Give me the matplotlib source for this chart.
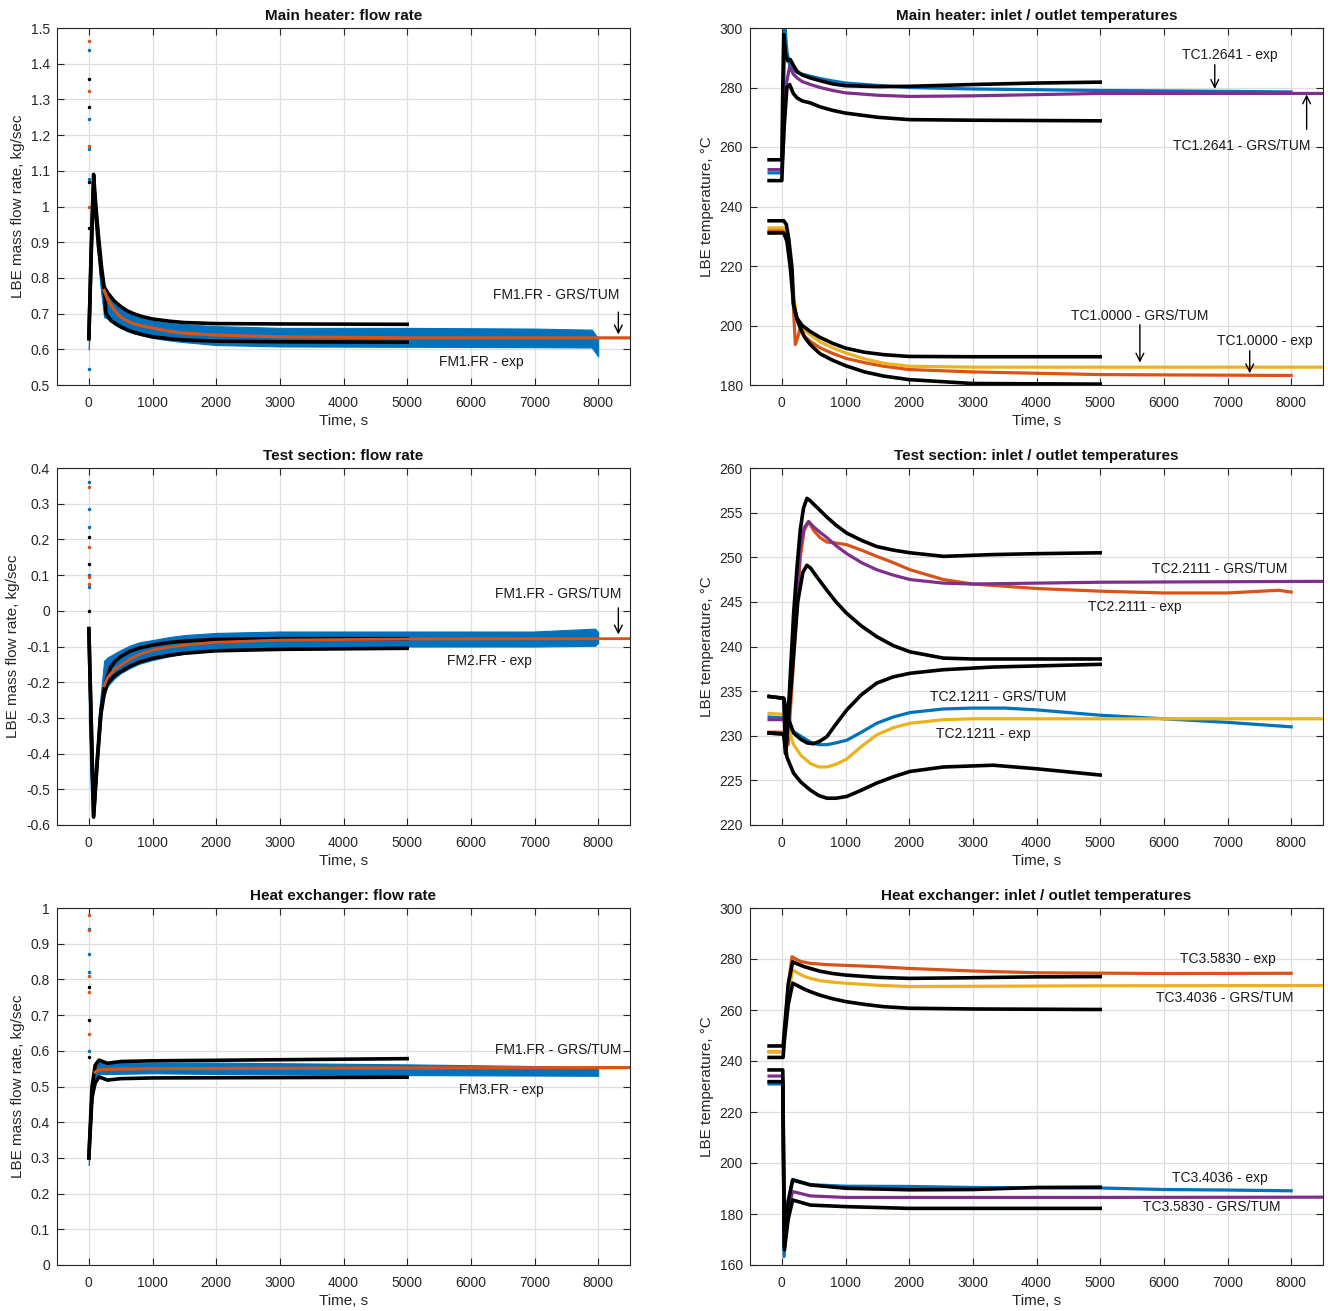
import matplotlib.pyplot as plt
from matplotlib.ticker import MultipleLocator, FuncFormatter

plt.rcParams['font.family'] = ['Liberation Sans', 'DejaVu Sans']
plt.rcParams['axes.unicode_minus'] = False

BLUE = '#0072BD'
ORANGE = '#D95319'
YELLOW = '#EDB120'
PURPLE = '#7E2F8E'
BLACK = '#000000'

# ---------------- Main heater: flow rate (kg/s)
mh_fr_exp_t = [0, 20, 50, 75, 120, 180, 240, 300, 400, 500, 600, 700, 850, 1000, 1250, 1500, 2000, 3000, 5000, 7000, 7900, 8000]
mh_fr_exp_hi = [0.66, 0.80, 1.00, 1.08, 1.00, 0.86, 0.76, 0.745, 0.728, 0.715, 0.704, 0.695, 0.686, 0.68, 0.674, 0.67, 0.665, 0.66, 0.66, 0.658, 0.655, 0.63]
mh_fr_exp_lo = [0.60, 0.70, 0.90, 1.02, 0.92, 0.78, 0.69, 0.685, 0.67, 0.66, 0.651, 0.645, 0.638, 0.632, 0.625, 0.62, 0.612, 0.608, 0.607, 0.606, 0.605, 0.58]
mh_fr_sim_t = [240, 300, 400, 500, 600, 700, 850, 1000, 1250, 1500, 2000, 3000, 5000, 8500]
mh_fr_sim = [0.765, 0.738, 0.71, 0.69, 0.68, 0.672, 0.665, 0.66, 0.651, 0.645, 0.64, 0.635, 0.632, 0.632]
mh_fr_up_t = [0, 40, 75, 110, 150, 200, 240, 300, 400, 500, 600, 700, 850, 1000, 1250, 1500, 2000, 3000, 5000]
mh_fr_up = [0.63, 0.9, 1.09, 1.0, 0.92, 0.83, 0.775, 0.757, 0.735, 0.72, 0.708, 0.70, 0.691, 0.685, 0.679, 0.675, 0.672, 0.671, 0.67]
mh_fr_low_t = [0, 40, 75, 110, 150, 200, 240, 270, 350, 500, 600, 700, 850, 1000, 1250, 1500, 2000, 3000, 5000]
mh_fr_low = [0.63, 0.88, 1.07, 0.98, 0.89, 0.81, 0.77, 0.70, 0.68, 0.663, 0.655, 0.648, 0.641, 0.635, 0.63, 0.626, 0.623, 0.621, 0.62]
mh_fr_dots_exp = [1.437, 1.246, 1.16, 1.078, 0.544]
mh_fr_dots_sim = [1.463, 1.323, 1.169, 1.0]
mh_fr_dots_bnd = [1.356, 1.278, 1.07, 0.94]

# ---------------- Main heater: inlet / outlet temperatures (C)
mh_out_exp_t = [-200, 0, 20, 50, 80, 130, 240, 320, 450, 600, 800, 1000, 1500, 2000, 3000, 5000, 7000, 8000]
mh_out_exp = [251.3, 251.3, 270, 300, 292, 287, 285, 284.5, 283.8, 283, 282.2, 281.5, 280.7, 280, 279.5, 279, 278.7, 278.5]
mh_out_sim_t = [-200, 0, 30, 60, 123, 180, 240, 320, 450, 600, 800, 1000, 1500, 2000, 3000, 4000, 5000, 8500]
mh_out_sim = [252.4, 252.4, 262, 280, 287.1, 284.5, 283.2, 282, 281, 280, 279, 278.2, 277.4, 277, 277.2, 277.6, 278, 278]
mh_out_up_t = [-200, 0, 15, 30, 60, 90, 133, 180, 240, 320, 450, 600, 800, 1000, 1500, 2000, 3000, 4000, 5000]
mh_out_up = [255.7, 255.7, 280, 297.8, 291, 289, 289.4, 287.5, 285.4, 284.2, 283.2, 282.3, 281.2, 280.6, 280.3, 280.4, 281, 281.5, 281.8]
mh_out_low_t = [-200, 0, 30, 80, 123, 180, 240, 320, 450, 600, 800, 1000, 1500, 2000, 3000, 5000]
mh_out_low = [248.7, 248.7, 265, 280, 281, 278, 276.5, 275.5, 274.8, 273.5, 272.3, 271.4, 270, 269.2, 269, 268.8]
mh_in_exp_t = [-200, 30, 70, 107, 160, 212, 250, 280, 350, 446, 600, 800, 1000, 1300, 1600, 2000, 3000, 5000, 8000]
mh_in_exp = [231.9, 231.9, 231, 228, 215, 193.6, 196, 198.6, 196.5, 194.7, 192.5, 190.6, 189, 187.5, 186.3, 185.2, 184.4, 183.5, 183.2]
mh_in_sim_t = [-200, 30, 70, 107, 160, 237, 320, 446, 600, 800, 1000, 1300, 1600, 2000, 3000, 8500]
mh_in_sim = [232.8, 232.8, 232, 229, 215, 201.4, 199, 196.9, 194.5, 192.5, 190.8, 188.8, 187.3, 186.3, 186, 186]
mh_in_up_t = [-200, 30, 70, 107, 160, 185, 237, 320, 446, 600, 800, 1000, 1300, 1600, 2000, 3000, 5000]
mh_in_up = [235.2, 235.2, 234, 229.4, 219.3, 207, 202.5, 200, 198, 196, 194, 192.4, 191, 190.2, 189.6, 189.5, 189.5]
mh_in_low_t = [-200, 30, 80, 130, 185, 240, 290, 360, 446, 600, 800, 1000, 1300, 1600, 2000, 3000, 5000]
mh_in_low = [231.1, 231.1, 228.3, 220, 207, 202, 199.2, 196, 193.6, 190.5, 188.3, 186.5, 184.4, 183, 181.8, 180.5, 180.3]

# ---------------- Test section: flow rate (kg/s)
ts_fr_exp_t = [0, 30, 75, 150, 240, 300, 400, 500, 650, 800, 1000, 1250, 1500, 2000, 3000, 5000, 7000, 7950, 8000]
ts_fr_exp_hi = [-0.2, -0.45, -0.56, -0.30, -0.14, -0.13, -0.12, -0.11, -0.097, -0.088, -0.082, -0.074, -0.068, -0.062, -0.058, -0.058, -0.058, -0.05, -0.06]
ts_fr_exp_lo = [-0.3, -0.5, -0.58, -0.35, -0.23, -0.21, -0.19, -0.175, -0.16, -0.148, -0.138, -0.128, -0.12, -0.11, -0.102, -0.1, -0.1, -0.098, -0.09]
ts_fr_sim_t = [240, 300, 400, 500, 650, 800, 1000, 1250, 1500, 2000, 3000, 5000, 8500]
ts_fr_sim = [-0.21, -0.185, -0.165, -0.152, -0.135, -0.122, -0.11, -0.102, -0.096, -0.088, -0.082, -0.079, -0.078]
ts_fr_up_t = [0, 75, 130, 190, 240, 290, 345, 420, 500, 650, 800, 1000, 1250, 1500, 2000, 3000, 5000]
ts_fr_up = [-0.05, -0.578, -0.42, -0.28, -0.222, -0.185, -0.157, -0.14, -0.128, -0.113, -0.104, -0.096, -0.089, -0.085, -0.08, -0.078, -0.078]
ts_fr_low_t = [0, 75, 130, 190, 240, 293, 400, 500, 650, 800, 1000, 1250, 1500, 2000, 3000, 5000]
ts_fr_low = [-0.05, -0.575, -0.43, -0.29, -0.235, -0.203, -0.182, -0.17, -0.155, -0.143, -0.133, -0.125, -0.119, -0.112, -0.108, -0.105]
ts_fr_dots_exp = [0.36, 0.285, 0.236, 0.1, 0.066]
ts_fr_dots_sim = [0.346, 0.178, 0.094, 0.076]
ts_fr_dots_bnd = [0.206, 0.13, 0.0, -0.1]

# ---------------- Test section: inlet / outlet temperatures (C)
ts_out_exp_t = [-200, 50, 100, 200, 290, 350, 420, 500, 600, 708, 850, 1021, 1250, 1491, 1750, 2014, 2538, 3000, 4000, 5000, 6000, 7000, 7800, 8000]
ts_out_exp = [230.4, 230.4, 229, 240, 250, 253, 254, 253, 252.2, 251.7, 251.6, 251.4, 250.8, 250.1, 249.4, 248.6, 247.5, 247, 246.5, 246.2, 246, 246, 246.3, 246.1]
ts_out_sim_t = [-200, 50, 100, 200, 290, 350, 420, 500, 600, 708, 850, 1021, 1250, 1491, 1750, 2014, 2538, 3000, 5000, 8500]
ts_out_sim = [231.8, 231.8, 231, 242, 251, 253.3, 254, 253.4, 252.8, 252.2, 251.3, 250.4, 249.4, 248.6, 248, 247.5, 247.1, 247.0, 247.2, 247.3]
ts_out_up_t = [-200, 30, 60, 120, 185, 240, 290, 340, 394, 450, 550, 708, 850, 1021, 1250, 1491, 1750, 2014, 2538, 3320, 4000, 5000]
ts_out_up = [234.4, 234.2, 228, 235, 243.7, 249, 253.1, 255.5, 256.6, 256.3, 255.6, 254.5, 253.6, 252.7, 251.9, 251.2, 250.8, 250.5, 250.1, 250.3, 250.4, 250.5]
ts_out_low_t = [-200, 30, 60, 150, 250, 330, 394, 450, 550, 708, 850, 1021, 1250, 1491, 1750, 2014, 2538, 3000, 5000]
ts_out_low = [230.3, 230.2, 228, 236, 245, 248.3, 249.1, 248.8, 247.8, 246.3, 245, 243.7, 242.3, 241.1, 240.1, 239.4, 238.7, 238.6, 238.6]
ts_in_exp_t = [-200, 30, 80, 200, 330, 447, 580, 708, 850, 1021, 1250, 1491, 1750, 2014, 2538, 3000, 3500, 4000, 5000, 6000, 7000, 8000]
ts_in_exp = [232.1, 232.0, 231.1, 230.4, 229.8, 229.3, 229.0, 229.0, 229.2, 229.5, 230.4, 231.4, 232.1, 232.6, 233.0, 233.1, 233.1, 232.9, 232.3, 231.9, 231.5, 231.0]
ts_in_sim_t = [-200, 30, 100, 185, 300, 447, 580, 708, 850, 1021, 1250, 1491, 1750, 2014, 2538, 3000, 8500]
ts_in_sim = [232.5, 232.4, 230.8, 229, 227.8, 226.9, 226.5, 226.5, 226.8, 227.4, 228.8, 230.1, 230.9, 231.4, 231.8, 231.9, 231.9]
ts_in_up_t = [-200, 30, 100, 185, 300, 394, 500, 600, 708, 850, 1021, 1250, 1491, 1750, 2014, 2538, 3320, 5000]
ts_in_up = [234.4, 234.2, 232, 230.3, 229.6, 229.2, 229.1, 229.4, 229.9, 231.3, 232.9, 234.6, 235.9, 236.6, 237, 237.4, 237.7, 238]
ts_in_low_t = [-200, 30, 80, 185, 300, 450, 580, 708, 850, 1021, 1250, 1491, 1750, 2014, 2538, 3320, 4000, 5000]
ts_in_low = [230.3, 230.2, 227.6, 225.8, 224.8, 223.9, 223.3, 223, 223, 223.2, 223.9, 224.7, 225.4, 226, 226.5, 226.7, 226.3, 225.6]

# ---------------- Heat exchanger: flow rate (kg/s)
hx_fr_exp_t = [0, 50, 100, 150, 300, 1000, 2000, 5000, 8000]
hx_fr_exp_hi = [0.31, 0.5, 0.56, 0.568, 0.565, 0.567, 0.567, 0.562, 0.555]
hx_fr_exp_lo = [0.28, 0.45, 0.52, 0.535, 0.535, 0.537, 0.535, 0.532, 0.53]
hx_fr_sim_t = [100, 150, 300, 1000, 5000, 8500]
hx_fr_sim = [0.54, 0.546, 0.548, 0.55, 0.552, 0.553]
hx_fr_up_t = [0, 50, 100, 160, 290, 500, 1000, 5000]
hx_fr_up = [0.3, 0.5, 0.56, 0.574, 0.565, 0.57, 0.572, 0.578]
hx_fr_low_t = [0, 50, 100, 160, 290, 500, 1000, 5000]
hx_fr_low = [0.3, 0.47, 0.51, 0.527, 0.518, 0.522, 0.524, 0.526]
hx_fr_dots_exp = [0.94, 0.87, 0.82, 0.6]
hx_fr_dots_sim = [0.98, 0.937, 0.81, 0.764, 0.648]
hx_fr_dots_bnd = [0.78, 0.687, 0.584]

# ---------------- Heat exchanger: inlet / outlet temperatures (C)
hx_hot_exp_t = [-200, 20, 40, 100, 160, 220, 300, 447, 700, 1000, 1500, 2000, 3000, 4000, 6000, 8000]
hx_hot_exp = [243.6, 243.6, 251, 270, 280.9, 280, 279, 278.3, 277.8, 277.5, 277, 276.3, 275.3, 274.6, 274.3, 274.4]
hx_hot_sim_t = [-200, 20, 40, 100, 170, 250, 350, 447, 600, 800, 1000, 1500, 2000, 3000, 5000, 8500]
hx_hot_sim = [243.6, 243.6, 250, 266, 275.7, 274.5, 273.2, 272.4, 271.5, 270.9, 270.5, 269.7, 269.2, 269.3, 269.5, 269.6]
hx_hot_up_t = [-200, 20, 40, 100, 170, 250, 350, 447, 600, 800, 1000, 1500, 2000, 2800, 4000, 5000]
hx_hot_up = [245.9, 245.9, 252, 270, 278.9, 278, 277, 276.3, 275.2, 274.3, 273.7, 272.8, 272.4, 272.6, 273.0, 273.1]
hx_hot_low_t = [-200, 20, 40, 100, 170, 250, 350, 447, 600, 800, 1000, 1300, 1600, 2000, 3000, 5000]
hx_hot_low = [241.4, 241.4, 248, 262, 270.5, 269.5, 268.2, 267.2, 265.8, 264.4, 263.3, 262.2, 261.3, 260.7, 260.4, 260.2]
hx_cold_exp_t = [-200, 15, 35, 100, 170, 447, 1000, 2000, 3000, 4000, 5000, 6000, 7000, 8000]
hx_cold_exp = [231, 231, 163.3, 185, 193.6, 191.5, 190.9, 190.8, 190.4, 190.3, 190.2, 189.6, 189.4, 189.1]
hx_cold_sim_t = [-200, 15, 40, 100, 170, 447, 1000, 5000, 8500]
hx_cold_sim = [234.1, 234.1, 168, 182, 188.8, 187.1, 186.5, 186.5, 186.6]
hx_cold_up_t = [-200, 15, 40, 100, 170, 447, 1000, 2000, 3000, 4000, 5000]
hx_cold_up = [236.5, 236.5, 167, 185, 193.3, 191.4, 190.1, 189.5, 189.6, 190.4, 190.5]
hx_cold_low_t = [-200, 15, 40, 100, 170, 447, 1000, 2000, 5000]
hx_cold_low = [231.9, 231.9, 166, 178, 185.5, 183.5, 182.9, 182.2, 182.2]

FLOW_LABEL = 'LBE mass flow rate, kg/sec'
TEMP_LABEL = 'LBE temperature, \u00b0C'


def fmt(v, pos):
    if abs(v) < 1e-9:
        return '0'
    return '%g' % round(v, 6)


def setup(ax, title, ylabel, ylim, ystep):
    ax.set_xlim(-500, 8500)
    ax.set_ylim(*ylim)
    ax.set_xticks(range(0, 8001, 1000))
    ax.yaxis.set_major_locator(MultipleLocator(ystep))
    ax.yaxis.set_major_formatter(FuncFormatter(fmt))
    ax.tick_params(direction='in', top=True, right=True, length=5, width=0.8,
                   labelsize=10, colors='#262626')
    ax.tick_params(axis='x', pad=8)
    ax.tick_params(axis='y', pad=5)
    for sp in ax.spines.values():
        sp.set_color('#262626')
        sp.set_linewidth(0.8)
    ax.grid(True, color='#dedede', lw=0.9)
    ax.set_axisbelow(True)
    ax.set_title(title, fontsize=11, fontweight='bold', pad=6, color='#111111')
    ax.set_xlabel('Time, s', fontsize=11, color='#262626', labelpad=3)
    ax.set_ylabel(ylabel, fontsize=11, color='#262626', labelpad=4)


def line(ax, t, v, color, lw=2.3, z=3):
    ax.plot(t, v, color=color, lw=lw, zorder=z, solid_joinstyle='round')


def dots(ax, vals, color):
    ax.plot([10] * len(vals), vals, '.', ms=3, color=color, zorder=3)


def label(ax, x, y, s):
    ax.text(x, y, s, ha='center', va='center', fontsize=10, color='#1a1a1a', zorder=6)


def arrow(ax, x, y0, y1):
    ax.annotate('', xy=(x, y1), xytext=(x, y0),
                arrowprops=dict(arrowstyle='->', color='k', lw=1.0, mutation_scale=14),
                zorder=6)


fig = plt.figure(figsize=(13.28, 13.11), dpi=100)
W = 573 / 1328
H = 357 / 1311
LX, RX = 57 / 1328, 750 / 1328
rows = [1 - 385 / 1311, 1 - 825 / 1311, 1 - 1265 / 1311]

# Main heater: flow rate
ax = fig.add_axes([LX, rows[0], W, H])
setup(ax, 'Main heater: flow rate', FLOW_LABEL, (0.5, 1.5), 0.1)
ax.fill_between(mh_fr_exp_t, mh_fr_exp_lo, mh_fr_exp_hi, color=BLUE, lw=0.8, zorder=2)
dots(ax, mh_fr_dots_exp, BLUE)
dots(ax, mh_fr_dots_sim, ORANGE)
dots(ax, mh_fr_dots_bnd, BLACK)
line(ax, mh_fr_up_t, mh_fr_up, BLACK, 2.6, 4)
line(ax, mh_fr_low_t, mh_fr_low, BLACK, 2.6, 4)
line(ax, mh_fr_sim_t, mh_fr_sim, ORANGE, 2.3, 5)
label(ax, 7343, 0.752, 'FM1.FR - GRS/TUM')
arrow(ax, 8317, 0.712, 0.634)
label(ax, 6163, 0.564, 'FM1.FR - exp')

# Main heater: inlet / outlet temperatures
ax = fig.add_axes([RX, rows[0], W, H])
setup(ax, 'Main heater: inlet / outlet temperatures', TEMP_LABEL, (180, 300), 20)
line(ax, mh_out_exp_t, mh_out_exp, BLUE, 2.3, 2)
line(ax, mh_in_exp_t, mh_in_exp, ORANGE, 2.3, 2)
line(ax, mh_out_sim_t, mh_out_sim, PURPLE, 2.3, 3)
line(ax, mh_in_sim_t, mh_in_sim, YELLOW, 2.3, 3)
for t, v in [(mh_out_up_t, mh_out_up), (mh_out_low_t, mh_out_low),
             (mh_in_up_t, mh_in_up), (mh_in_low_t, mh_in_low)]:
    line(ax, t, v, BLACK, 2.6, 4)
label(ax, 7035, 290.9, 'TC1.2641 - exp')
arrow(ax, 6800, 288.6, 278.6)
label(ax, 7223, 260.3, 'TC1.2641 - GRS/TUM')
arrow(ax, 8243, 265.0, 278.6)
label(ax, 5624, 203.2, 'TC1.0000 - GRS/TUM')
arrow(ax, 5624, 201.2, 186.6)
label(ax, 7584, 194.8, 'TC1.0000 - exp')
arrow(ax, 7349, 192.4, 183.0)

# Test section: flow rate
ax = fig.add_axes([LX, rows[1], W, H])
setup(ax, 'Test section: flow rate', FLOW_LABEL, (-0.6, 0.4), 0.1)
ax.fill_between(ts_fr_exp_t, ts_fr_exp_lo, ts_fr_exp_hi, color=BLUE, lw=0.8, zorder=2)
dots(ax, ts_fr_dots_exp, BLUE)
dots(ax, ts_fr_dots_sim, ORANGE)
dots(ax, ts_fr_dots_bnd, BLACK)
line(ax, ts_fr_up_t, ts_fr_up, BLACK, 2.6, 4)
line(ax, ts_fr_low_t, ts_fr_low, BLACK, 2.6, 4)
line(ax, ts_fr_sim_t, ts_fr_sim, ORANGE, 2.0, 5)
label(ax, 7374, 0.047, 'FM1.FR - GRS/TUM')
arrow(ax, 8317, 0.016, -0.074)
label(ax, 6289, -0.14, 'FM2.FR - exp')

# Test section: inlet / outlet temperatures
ax = fig.add_axes([RX, rows[1], W, H])
setup(ax, 'Test section: inlet / outlet temperatures', TEMP_LABEL, (220, 260), 5)
line(ax, ts_out_exp_t, ts_out_exp, ORANGE, 2.3, 3)
line(ax, ts_in_exp_t, ts_in_exp, BLUE, 2.3, 2)
line(ax, ts_out_sim_t, ts_out_sim, PURPLE, 2.3, 3)
line(ax, ts_in_sim_t, ts_in_sim, YELLOW, 2.3, 3)
for t, v in [(ts_out_up_t, ts_out_up), (ts_out_low_t, ts_out_low),
             (ts_in_up_t, ts_in_up), (ts_in_low_t, ts_in_low)]:
    line(ax, t, v, BLACK, 2.6, 4)
label(ax, 6878, 248.7, 'TC2.2111 - GRS/TUM')
label(ax, 5545, 244.4, 'TC2.2111 - exp')
label(ax, 3396, 234.3, 'TC2.1211 - GRS/TUM')
label(ax, 3161, 230.2, 'TC2.1211 - exp')

# Heat exchanger: flow rate
ax = fig.add_axes([LX, rows[2], W, H])
setup(ax, 'Heat exchanger: flow rate', FLOW_LABEL, (0, 1), 0.1)
ax.fill_between(hx_fr_exp_t, hx_fr_exp_lo, hx_fr_exp_hi, color=BLUE, lw=0.8, zorder=2)
dots(ax, hx_fr_dots_exp, BLUE)
dots(ax, hx_fr_dots_sim, ORANGE)
dots(ax, hx_fr_dots_bnd, BLACK)
line(ax, hx_fr_up_t, hx_fr_up, BLACK, 2.6, 4)
line(ax, hx_fr_low_t, hx_fr_low, BLACK, 2.6, 4)
line(ax, hx_fr_sim_t, hx_fr_sim, ORANGE, 2.3, 5)
label(ax, 7374, 0.602, 'FM1.FR - GRS/TUM')
label(ax, 6478, 0.49, 'FM3.FR - exp')

# Heat exchanger: inlet / outlet temperatures
ax = fig.add_axes([RX, rows[2], W, H])
setup(ax, 'Heat exchanger: inlet / outlet temperatures', TEMP_LABEL, (160, 300), 20)
line(ax, hx_hot_exp_t, hx_hot_exp, ORANGE, 2.3, 2)
line(ax, hx_cold_exp_t, hx_cold_exp, BLUE, 2.3, 2)
line(ax, hx_hot_sim_t, hx_hot_sim, YELLOW, 2.3, 3)
line(ax, hx_cold_sim_t, hx_cold_sim, PURPLE, 2.3, 3)
for t, v in [(hx_hot_up_t, hx_hot_up), (hx_hot_low_t, hx_hot_low),
             (hx_cold_up_t, hx_cold_up), (hx_cold_low_t, hx_cold_low)]:
    line(ax, t, v, BLACK, 2.6, 4)
label(ax, 7004, 280.0, 'TC3.5830 - exp')
label(ax, 6957, 264.7, 'TC3.4036 - GRS/TUM')
label(ax, 6878, 194.1, 'TC3.4036 - exp')
label(ax, 6753, 182.7, 'TC3.5830 - GRS/TUM')

fig.savefig('out.png', dpi=100)
